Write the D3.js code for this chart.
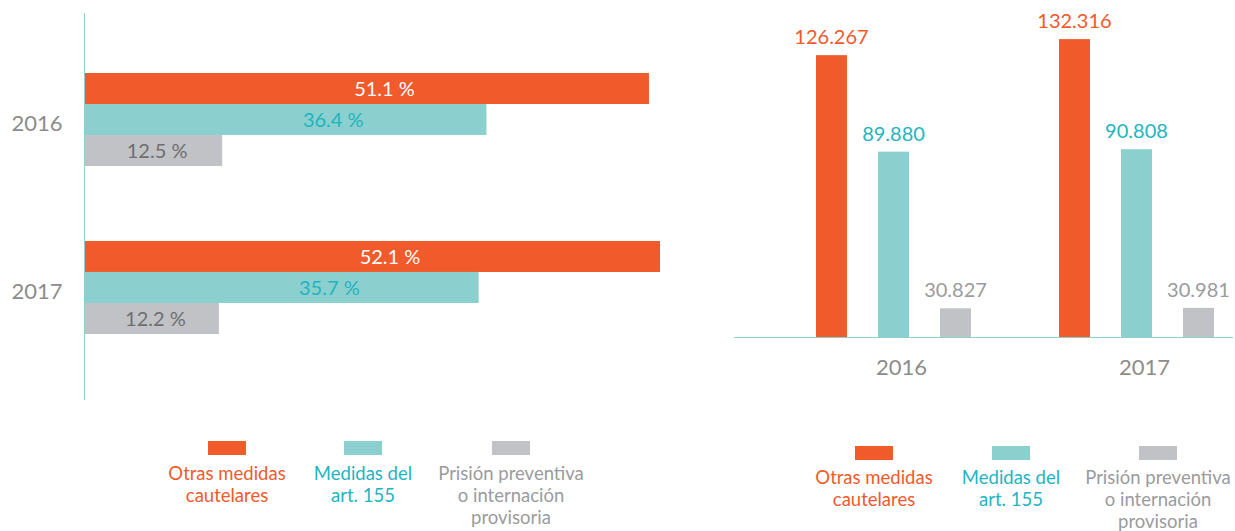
<!DOCTYPE html>
<html><head><meta charset="utf-8">
<script src="https://cdn.jsdelivr.net/npm/d3@7"></script>
<style>html,body{margin:0;padding:0;background:#fff;}svg{display:block;font-family:Lato,"Open Sans",sans-serif;}</style>
</head><body><svg id="c" width="1235" height="531"></svg>
<script>
const years = ["2016", "2017"];
const seriesNames = ["Otras medidas cautelares", "Medidas del art. 155", "Prisión preventiva o internación provisoria"];
const percentValues = { "2016": [51.1, 36.4, 12.5], "2017": [52.1, 35.7, 12.2] };
const countValues = { "2016": [126267, 89880, 30827], "2017": [132316, 90808, 30981] };
const legendLines = [["Otras medidas", "cautelares"], ["Medidas del", "art. 155"], ["Prisión preventiva", "o internación", "provisoria"]];

const barColors = ["#f15a2b", "#8bcfce", "#c1c2c6"];
const textColors = ["#f15a2b", "#1fb4c0", "#9a9b9e"];
const inBarText = ["#ffffff", "#1fb4c0", "#6d6e71"];
const labelShift = [18, 48, 4];
const axisColor = "#8dd0cc";
const yearColor = "#8c8c8c";

const svg = d3.select("#c");
const fmtPct = d => d3.format(".1f")(d) + " %";
const fmtCount = d => d3.format(",")(d).replace(/,/g, ".");

// ---------- Left chart: horizontal bars ----------
const xL = d3.scaleLinear().domain([0, 52.1]).range([84, 660]);
const yL = d3.scaleBand().domain(years).range([39.4, 367.6]).paddingInner(0.446).paddingOuter(0.2);
const yLi = d3.scaleBand().domain(d3.range(3)).range([0, yL.bandwidth()]).padding(0);

const gL = svg.append("g");
years.forEach(yr => {
  const g = gL.append("g").attr("transform", `translate(0,${yL(yr)})`);
  percentValues[yr].forEach((v, i) => {
    g.append("rect").attr("x", xL(0)).attr("y", yLi(i)).attr("width", xL(v) - xL(0)).attr("height", yLi.bandwidth()).attr("fill", barColors[i]);
    g.append("text").attr("x", (xL(0) + xL(v)) / 2 + labelShift[i]).attr("y", yLi(i) + yLi.bandwidth() / 2)
      .attr("dy", "0.36em").attr("text-anchor", "middle").attr("font-size", 20).attr("fill", inBarText[i]).text(fmtPct(v));
  });
  gL.append("text").attr("x", 37).attr("y", yL(yr) + yL.bandwidth() / 2 + 4).attr("dy", "0.36em")
    .attr("text-anchor", "middle").attr("font-size", 22).attr("fill", yearColor).text(yr);
});
gL.append("line").attr("x1", 84.5).attr("x2", 84.5).attr("y1", 13).attr("y2", 400).attr("stroke", axisColor).attr("stroke-width", 1);

// ---------- Right chart: vertical bars ----------
const xR = d3.scaleBand().domain(years).range([816, 1214]).paddingInner(0.362).paddingOuter(0);
const xRi = d3.scaleBand().domain(d3.range(3)).range([0, xR.bandwidth()]).paddingInner(0.5).paddingOuter(0);
const yR = d3.scaleLinear().domain([20000, 135000]).range([337, 32]);

const gR = svg.append("g");
years.forEach(yr => {
  const g = gR.append("g").attr("transform", `translate(${xR(yr)},0)`);
  countValues[yr].forEach((v, i) => {
    g.append("rect").attr("x", xRi(i)).attr("y", yR(v)).attr("width", xRi.bandwidth()).attr("height", yR.range()[0] - yR(v)).attr("fill", barColors[i]);
    g.append("text").attr("x", xRi(i) + xRi.bandwidth() / 2).attr("y", yR(v) - 18).attr("dy", "0.36em")
      .attr("text-anchor", "middle").attr("font-size", 20).attr("fill", textColors[i]).text(fmtCount(v));
  });
  gR.append("text").attr("x", xR(yr) + xR.bandwidth() / 2 + 8).attr("y", 367).attr("dy", "0.36em")
    .attr("text-anchor", "middle").attr("font-size", 22).attr("fill", yearColor).text(yr);
});
gR.append("line").attr("x1", 734).attr("x2", 1233).attr("y1", 337.5).attr("y2", 337.5).attr("stroke", axisColor).attr("stroke-width", 1.2);

// ---------- Legends ----------
function legend(centers, swatchY, textY) {
  const g = svg.append("g");
  seriesNames.forEach((name, i) => {
    g.append("rect").attr("x", centers[i] - 19).attr("y", swatchY).attr("width", 38).attr("height", 14).attr("fill", barColors[i]);
    legendLines[i].forEach((ln, j) => {
      g.append("text").attr("x", centers[i]).attr("y", textY + j * 22).attr("dy", "0.36em")
        .attr("text-anchor", "middle").attr("font-size", 18.5).attr("fill", textColors[i]).text(ln);
    });
  });
}
legend([227, 363, 511], 441, 473);
legend([874, 1011, 1158], 446, 477);
</script></body></html>
